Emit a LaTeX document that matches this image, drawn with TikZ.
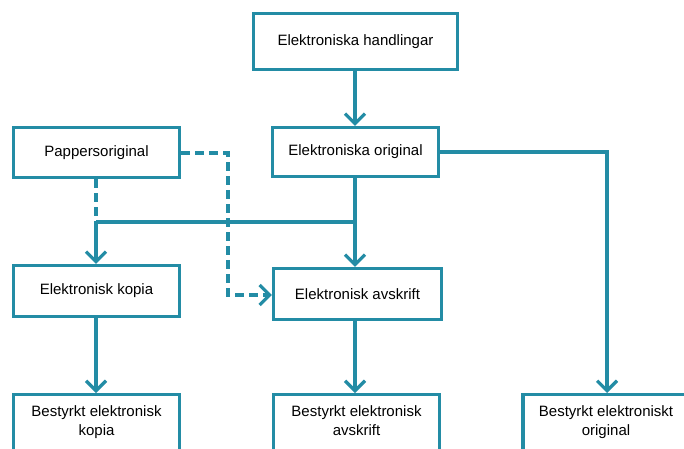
\documentclass[tikz,border=0pt]{standalone}
\usepackage{fontspec}
\setmainfont{Liberation Sans}
\usetikzlibrary{arrows.meta,shadows}
\definecolor{teal1}{RGB}{35,140,165}
\tikzset{
  txt/.style={font=\fontsize{15}{19}\selectfont, align=center},
  box/.style={draw=teal1, line width=3.4pt, fill=white, minimum width=#1, inner sep=0pt, txt,
     drop shadow={shadow xshift=1.5pt, shadow yshift=-1.5pt, opacity=0.25, fill=black!60}},
  conn/.style={draw=teal1, line width=3.2pt},
  tip/.style={-{Straight Barb[length=10pt,width=20pt,line width=3.2pt]}},
  arr/.style={conn, tip},
  dsh/.style={conn, dash pattern=on 9pt off 5pt},
}
\begin{document}
\begin{tikzpicture}[x=1pt,y=-1pt]
\useasboundingbox (0,0) rectangle (684,448);
\clip (0,0) rectangle (684,448);
\node[box=204pt, minimum height=56pt] (hand) at (355.5,41.5) {Elektroniska handlingar};
\node[box=166pt, minimum height=49pt] (orig) at (355.5,152) {Elektroniska original};
\node[box=166pt, minimum height=50pt] (papp) at (96.5,152.5) {Pappersoriginal};
\node[box=166pt, minimum height=51pt] (kop) at (96.5,291) {Elektronisk kopia};
\node[box=168pt, minimum height=51pt] (avs) at (357.5,294) {Elektronisk avskrift};
\node[box=166pt, minimum height=70pt, anchor=north] (bk) at (96.5,393) {};
\node[box=166pt, minimum height=70pt, anchor=north] (ba) at (356.5,393) {};
\node[box=166pt, minimum height=70pt, anchor=north] (bo) at (606,393) {};
\node[txt, anchor=north] (tbk) at (96.5,402) {Bestyrkt elektronisk\\kopia};
\node[txt, anchor=north] (tba) at (356.5,402) {Bestyrkt elektronisk\\avskrift};
\node[txt, anchor=north] (tbo) at (606,402) {Bestyrkt elektroniskt\\original};
\coordinate (j1) at (96,222);
\coordinate (j2) at (355,222);
\coordinate (d1) at (228,153);
\coordinate (d2) at (228,295);
\coordinate (r1) at (607,152);
% solid
\draw[arr] (hand.south -| 355,0) -- (orig.north -| 355,0);
\draw[arr] (orig.south -| 355,0) -- (avs.north -| 355,0);
\draw[conn] (j2) -- (j1);
\draw[arr] (j1) -- (kop.north -| j1);
\draw[arr] (orig.east) -- (r1) -- (bo.north -| r1);
\draw[arr] (kop.south -| 96,0) -- (bk.north -| 96,0);
\draw[arr] (avs.south -| 355,0) -- (ba.north -| 355,0);
% dashed
\draw[dsh] (papp.south -| j1) -- (j1);
\draw[dsh, tip] (papp.east |- d1) -- (d1) -- (d2) -- (avs.west |- d2);
\end{tikzpicture}
\end{document}
